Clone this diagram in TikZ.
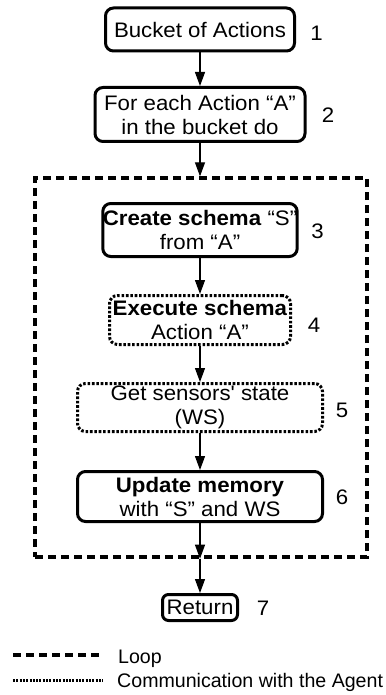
\documentclass[tikz,border=0pt]{standalone}
\usepackage{fontspec}
\setmainfont{Liberation Sans}[FakeStretch=1.06, Ligatures=TeXOff]
\newfontfamily\legendfont{Liberation Sans}[Ligatures=TeXOff]
\usetikzlibrary{arrows.meta}

\begin{document}
\begin{tikzpicture}[x=1pt, y=-1pt,
  every node/.style={font=\fontsize{21}{24}\selectfont, align=center, inner sep=0pt},
  solidbox/.style={draw, rounded corners=8pt, line width=3pt},
  agentbox/.style={draw, rounded corners=8pt, line width=3pt, dash pattern=on 2.6pt off 1.8pt},
  loopline/.style={line width=3.3pt, dash pattern=on 8pt off 5pt},
  agentline/.style={line width=3pt, dash pattern=on 2pt off 1.3pt},
  flow/.style={line width=1.2pt, -{Triangle[length=14pt, width=10pt]}},
  steplabel/.style={anchor=center},
  legendtext/.style={anchor=base west, font=\legendfont\fontsize{19.6}{22}\selectfont}]

\useasboundingbox (0,0) rectangle (385,695);

% loop frame around steps 3-6
\node[draw, loopline, minimum width=332pt, minimum height=379pt] (loop) at (201,367.5) {};

% steps
\node[solidbox, minimum width=189pt, minimum height=43pt] (b1) at (200,29.5) {Bucket of Actions};
\node[solidbox, minimum width=210pt, minimum height=54pt] (b2) at (200,114.5) {For each Action “A”\\in the bucket do};
\node[solidbox, minimum width=193pt, minimum height=53pt] (b3) at (200,230) {\textbf{Create schema} “S”\\from “A”};
\node[agentbox, minimum width=181pt, minimum height=49pt] (b4) at (200,320) {\textbf{Execute schema}\\Action “A”};
\node[agentbox, minimum width=245pt, minimum height=48pt] (b5) at (200,407.5) {Get sensors' state\\(WS)};
\node[solidbox, minimum width=245pt, minimum height=50pt] (b6) at (200,496.5) {\textbf{Update memory}\\with “S” and WS};
\node[solidbox, rounded corners=6pt, minimum width=75pt, minimum height=26pt] (ret) at (200,607.5) {Return};

% step numbers
\node[steplabel] (n1) at (316.5,33.5) {1};
\node[steplabel] (n2) at (328,115) {2};
\node[steplabel] (n3) at (317.5,231.5) {3};
\node[steplabel] (n4) at (314,325.5) {4};
\node[steplabel] (n5) at (342,410) {5};
\node[steplabel] (n6) at (342,497.5) {6};
\node[steplabel] (n7) at (263,608.5) {7};

% flow
\draw[flow] (b1.south) -- (b2.north);
\draw[flow] (b2.south) -- (b2.south |- loop.north);
\draw[flow] (b3.south) -- (b4.north);
\draw[flow] (b4.south) -- (b5.north);
\draw[flow] (b5.south) -- (b6.north);
\draw[flow] (b6.south) -- (b6.south |- loop.south);
\draw[flow] (b6.south |- loop.south) -- (ret.north);

% legend
\coordinate (la) at (13,655);
\coordinate (lb) at (100,655);
\coordinate (ca) at (13,680);
\coordinate (cb) at (103,680);
\draw[loopline] (la) -- (lb);
\draw[agentline] (ca) -- (cb);
\node[legendtext] (loopkey) at (118,663) {Loop};
\node[legendtext] (agentkey) at (117,687) {Communication with the Agent};
\end{tikzpicture}
\end{document}
